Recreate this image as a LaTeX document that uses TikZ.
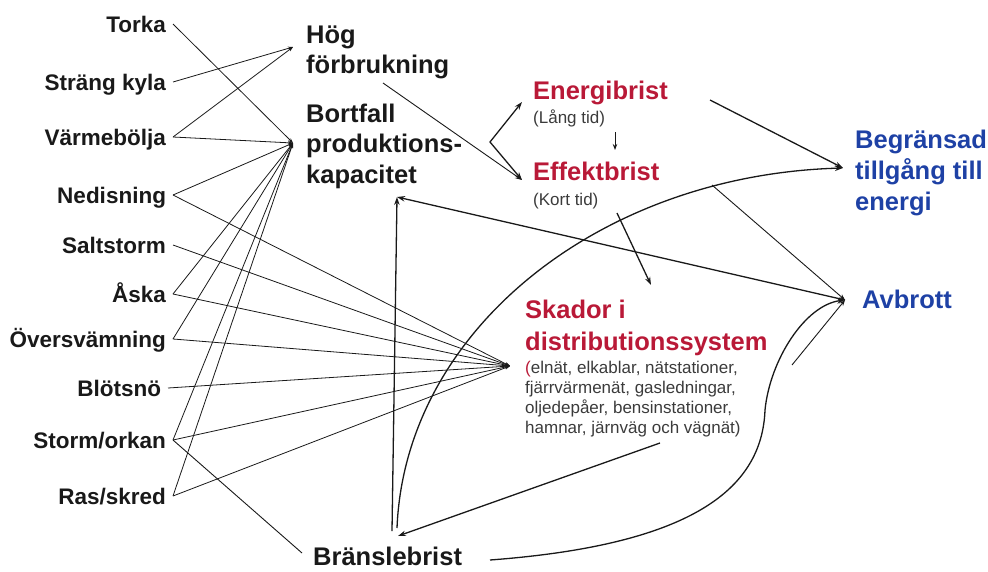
\documentclass[tikz,border=0pt]{standalone}
\usepackage{fontspec}
\setmainfont{Liberation Sans}
\usetikzlibrary{arrows.meta}
\definecolor{dred}{RGB}{185,25,55}
\definecolor{dblue}{RGB}{30,65,165}
\definecolor{ink}{RGB}{25,25,25}
\begin{document}
\begin{tikzpicture}[x=1pt,y=-1pt,
  src/.style={font=\bfseries\fontsize{22.5}{27}\selectfont, anchor=east, text height=16pt, text depth=0pt, inner sep=0pt, outer xsep=7pt, text=ink},
  mid/.style={font=\bfseries\fontsize{25.5}{30.5}\selectfont, anchor=base west, inner sep=0pt, text=ink},
  note/.style={font=\fontsize{17}{20}\selectfont, anchor=base west, inner sep=0pt, text=ink!85},
  fan/.style={draw=ink, line width=0.8pt, -{Stealth[length=5pt,width=3.5pt]}},
  arr/.style={draw=ink, line width=1.3pt, -{Stealth[length=8pt,width=5.5pt]}},
  ln/.style={draw=ink, line width=0.9pt}
]
\useasboundingbox (0,0) rectangle (988,571);

% left causes
\node[src] (torka)  at (173,24)  {Torka};
\node[src] (strang) at (173,82)  {Sträng kyla};
\node[src] (varme)  at (173,137) {Värmebölja};
\node[src] (nedis)  at (173,195) {Nedisning};
\node[src] (salt)   at (173,245) {Saltstorm};
\node[src] (aska)   at (173,294) {Åska};
\node[src] (over)   at (173,339) {Översvämning};
\node[src] (blot)   at (168,388) {Blötsnö};
\node[src] (storm)  at (173,440) {Storm/orkan};
\node[src] (ras)    at (173,496) {Ras/skred};

% middle
\node[mid] (hog) at (306,43) {\vtop{\hbox{Hög}\hbox{förbrukning}}};
\node[mid] (bortfall) at (306,122) {\vtop{\hbox{Bortfall}\hbox{produktions-}\hbox{kapacitet}}};
\node[mid, text=dred] (energi) at (533,99) {Energibrist};
\node[note] (lang) at (533,123) {(Lång tid)};
\node[mid, text=dred] (effekt) at (533,180) {Effektbrist};
\node[note] (kort) at (533,205) {(Kort tid)};
\node[mid, text=dred, font=\bfseries\fontsize{25.5}{32}\selectfont] (skador) at (525,318) {\vtop{\hbox{Skador i}\hbox{distributionssystem}}};
\node[note] (skadornote) at (525,373) {\vtop{\hbox{\textcolor{dred}{(}elnät, elkablar, nätstationer,}\hbox{fjärrvärmenät, gasledningar,}\hbox{oljedepåer, bensinstationer,}\hbox{hamnar, järnväg och vägnät)}}};
\node[mid] (bransle) at (313,565) {Bränslebrist};
\node[mid, text=dblue, font=\bfseries\fontsize{25.5}{31}\selectfont] (beg) at (855,148) {\vtop{\hbox{Begränsad}\hbox{tillgång till}\hbox{energi}}};
\node[mid, text=dblue] (avbrott) at (862,308) {Avbrott};

% connection points
\coordinate (H) at (293,47);
\coordinate (B) at (293,143);
\coordinate (S) at (510,366);
\coordinate (hogS) at (383,83);
\coordinate (C) at (490,142);
\coordinate (enW) at (522,102);
\coordinate (effW) at (522,180);
\coordinate (enS) at (615,132);
\coordinate (effN) at (615,150);
\coordinate (effS) at (617,213);
\coordinate (skN) at (651,285);
\coordinate (enE) at (710,100);
\coordinate (begW) at (843,168);
\coordinate (avW) at (845,300);
\coordinate (bortS) at (397,197);
\coordinate (brTop) at (397,528);
\coordinate (brTopL) at (392,531);
\coordinate (brTopR) at (398,536);
\coordinate (brW) at (302,553);
\coordinate (brE) at (490,560);
\coordinate (skSE) at (660,443);
\coordinate (cv) at (712,185);
\coordinate (stub) at (792,365);

% fans
\foreach \n in {torka,varme,nedis,aska,over,storm,ras} \draw[fan] (\n.east) -- (B);
\foreach \n in {strang,varme} \draw[fan] (\n.east) -- (H);
\foreach \n in {nedis,salt,aska,over,blot,storm,ras} \draw[fan] (\n.east) -- (S);
\draw[ln] (storm.east) -- (brW);

% arrows
\draw[ln, -{Stealth[length=7pt,width=5pt]}] (hogS) -- (effW);
\draw[arr, {Stealth[length=8pt,width=5.5pt]}-{Stealth[length=8pt,width=5.5pt]}] (enW) -- (C) -- (effW);
\draw[ln, -{Stealth[length=6pt,width=4.5pt]}] (enS) -- (effN);
\draw[arr] (effS) -- (skN);
\draw[arr] (enE) -- (begW);
\draw[arr] (brTop) .. controls (405,330) and (600,175) .. (begW);
\draw[ln, -{Stealth[length=6pt,width=4.5pt]}] (cv) -- (avW);
\draw[arr] (avW) -- (bortS);
\draw[arr] (brTopL) -- (bortS);
\draw[arr] (skSE) -- (brTopR);
\draw[arr] (brE) .. controls (690,545) and (762,490) .. (765,410) .. controls (770,360) and (805,305) .. (avW);
\draw[ln, -{Stealth[length=6pt,width=4.5pt]}] (stub) -- (avW);
\end{tikzpicture}
\end{document}
